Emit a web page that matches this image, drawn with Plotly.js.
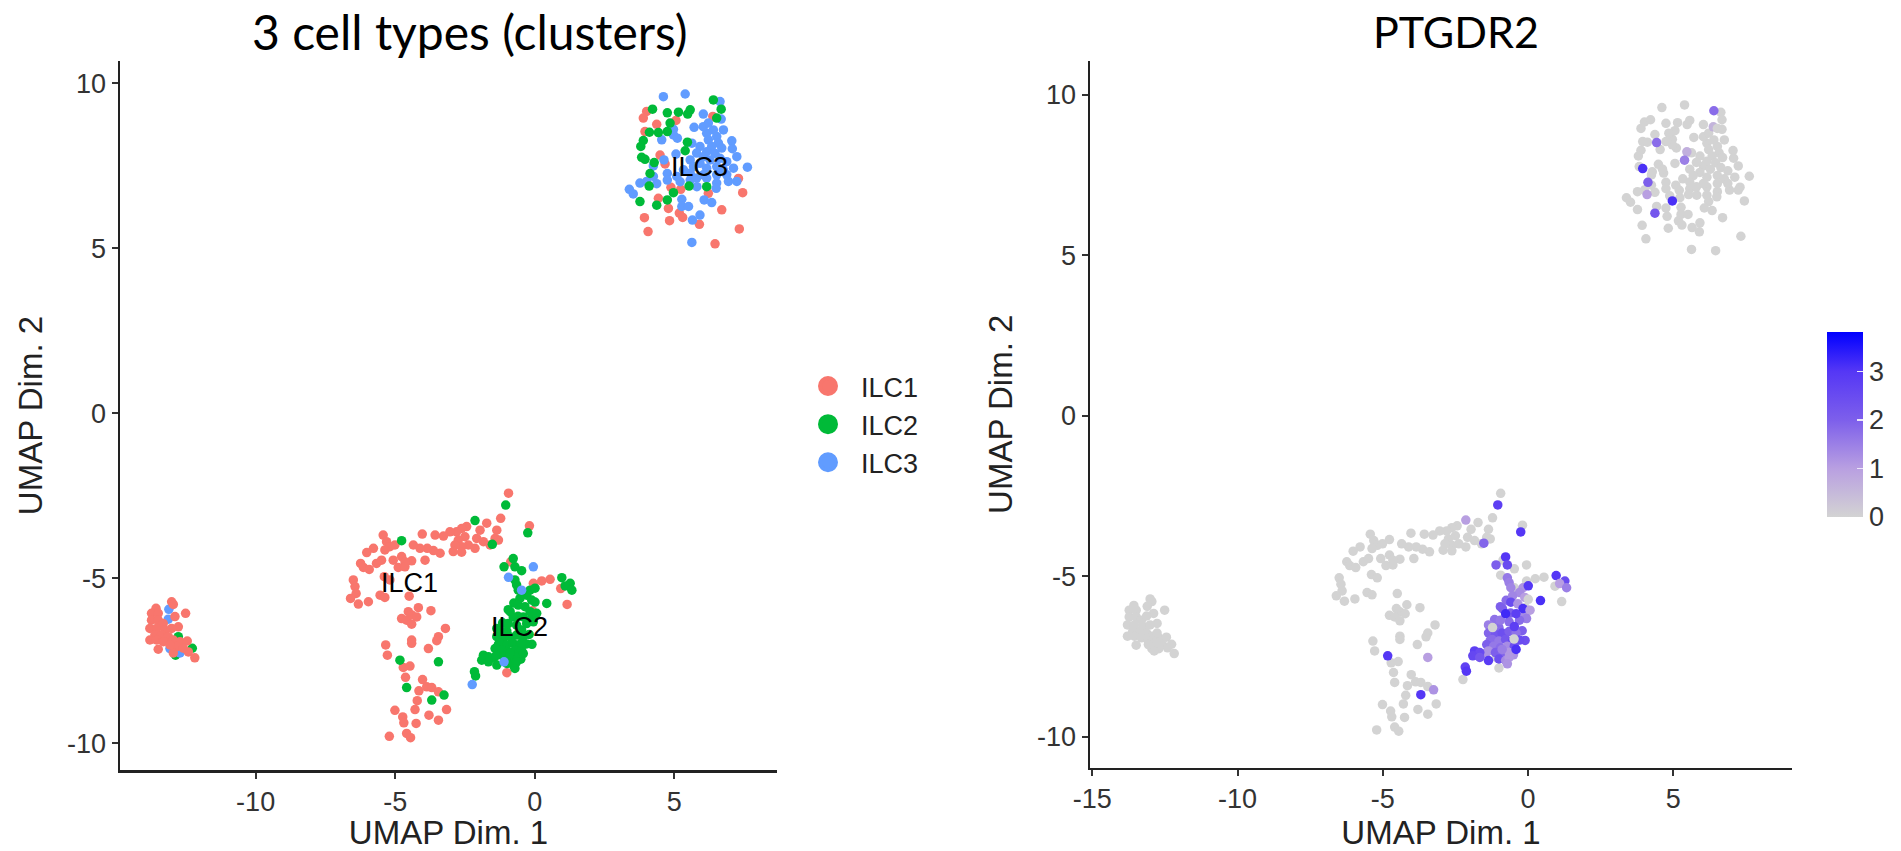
<!DOCTYPE html>
<html><head><meta charset="utf-8">
<script src="https://cdn.plot.ly/plotly-3.0.1.min.js"></script>
<style>html,body{margin:0;padding:0;background:#fff}</style></head>
<body><div id="chart" style="width:1901px;height:851px"></div>
<script>
// ILC1: main group (upper right cloud + arc + lower tail)
const ilc1MainX=[4.01,3.89,4.37,5.06,3.95,4.49,4.67,4.88,5.23,6.22,7.45,4.43,4.79,6.70,5.18,5.30,3.93,4.83,5.90,4.06,7.33,6.46,7.30,
-0.94,-1.22,-1.72,-0.19,-1.36,-1.96,-1.42,-2.08,-1.84,-1.30,-1.60,-2.14,-2.44,-2.62,-2.80,-3.04,-3.27,-3.57,-4.03,-2.50,-2.74,-2.38,-2.62,-2.86,-2.92,-2.62,-3.39,-3.63,-3.85,-4.11,-4.35,-3.93,-5.43,-5.31,-5.19,-5.37,-5.01,-5.78,-6.02,-6.24,-6.14,-5.93,-5.67,-5.49,-5.07,-4.77,-4.41,-4.65,-4.89,-4.65,-5.39,-5.19,-6.50,-6.44,-6.40,-6.60,-6.32,-5.96,-5.54,-5.37,-4.50,-4.17,-4.53,-3.72,-4.41,-4.77,-4.23,-4.59,-4.41,-3.20,-3.45,-3.51,-4.41,-4.41,-5.34,-3.81,-5.28,-4.71,-4.47,-4.63,-4.02,-3.87,-3.69,-4.15,-3.45,-4.21,-4.29,-5.01,-3.16,-4.73,-4.69,-3.79,-3.45,-4.25,-5.21,-4.59,-4.45,
-0.05,0.25,0.55,0.93,1.16,-0.09,-1.16,-1.00,-0.86];
const ilc1MainY=[9.15,8.95,8.76,8.88,8.54,7.83,7.56,6.85,6.79,6.67,6.69,6.52,6.21,6.17,6.07,5.94,5.93,5.84,5.73,5.51,5.59,5.14,7.12,
-2.42,-3.18,-3.33,-3.41,-3.54,-3.54,-3.79,-3.79,-3.89,-3.84,-3.99,-4.09,-3.43,-3.49,-3.59,-3.59,-3.72,-3.69,-3.66,-3.74,-3.84,-3.99,-4.04,-3.99,-4.19,-4.21,-4.24,-4.16,-4.09,-4.09,-3.99,-4.45,-3.69,-3.89,-4.04,-4.14,-3.99,-4.09,-4.22,-4.55,-4.67,-4.73,-4.55,-4.45,-4.45,-4.34,-4.47,-4.50,-4.67,-4.65,-4.95,-5.05,-5.05,-5.25,-5.46,-5.61,-5.78,-5.71,-5.51,-5.58,-5.54,-5.89,-6.01,-5.98,-6.11,-6.22,-6.17,-6.27,-6.39,-6.52,-6.77,-6.89,-6.87,-6.97,-7.02,-7.13,-7.33,-7.70,-7.66,-8.00,-8.07,-8.29,-8.31,-8.41,-8.44,-8.71,-8.98,-9.00,-8.98,-9.20,-9.38,-9.15,-9.30,-9.40,-9.79,-9.70,-9.83,
-5.15,-5.08,-5.03,-5.31,-5.79,-5.98,-6.62,-7.86,-4.50];
// ILC1: far-left lobe
const ilc1LobeX=[-13.01,-12.95,-13.57,-13.73,-13.49,-12.51,-12.89,-13.73,-13.49,-13.31,-12.77,-13.79,-13.55,-13.25,-13.01,-13.61,-13.37,-13.13,-13.79,-13.55,-13.31,-12.95,-12.71,-12.45,-13.49,-12.83,-12.59,-12.41,-12.18,-12.95,-13.07];
const ilc1LobeY=[-5.71,-5.79,-5.91,-6.06,-6.06,-6.06,-6.16,-6.27,-6.27,-6.37,-6.47,-6.52,-6.52,-6.57,-6.52,-6.72,-6.72,-6.77,-6.87,-6.87,-6.92,-6.87,-6.92,-6.90,-7.15,-7.07,-7.12,-7.23,-7.41,-7.26,-7.02];
// ILC1: the only cell with detectable PTGDR2
const ilc1PosX=[6.38], ilc1PosY=[9.00], ilc1PosExpr=[0.6];

// ILC2
const ilc2X=[-12.77,-12.27,-12.87,6.40,6.68,4.22,4.75,5.15,5.57,5.48,4.85,6.52,4.11,4.43,4.75,3.89,3.80,5.47,5.39,3.83,3.95,4.28,4.13,4.10,5.53,6.16,4.97,4.75,3.77,4.37,
-4.77,-0.47,-4.59,-2.14,-3.45,-3.25,-1.04,-0.25,-1.52,-4.83,-3.69,
-0.95,-0.75,-0.10,-0.60,-1.15,-1.00,-0.20,-0.10,-1.30,-0.50,-1.45,
-0.77,-1.10,-0.71,-0.71,-0.65,-0.59,-0.17,0.01,-0.29,-0.11,0.43,0.97,1.27,1.09,1.33,-0.53,-0.59,-0.88,-0.35,-0.17,
0.07,-0.05,-0.29,-0.65,-0.95,-1.36,
-1.36,-1.12,-0.89,-0.65,-0.41,-1.24,-1.00,-0.77,-0.53,-0.29,-1.42,-1.18,-0.95,-0.71,-0.47,-1.36,-1.12,-0.89,-0.65,-0.41,-1.00,-0.77,-0.65,-0.89,-0.71,-1.84,-1.66,-1.90,-1.66,-1.36,-2.16,-2.12,-0.77,-0.41,-0.47,-1.22,-0.48,0.01];
const ilc2Y=[-6.77,-7.12,-7.33,9.50,9.22,9.22,9.11,9.13,9.20,9.07,8.80,8.95,8.52,8.51,8.54,8.27,8.09,8.22,7.96,7.76,7.70,7.60,7.27,6.89,6.89,6.87,6.69,6.47,6.42,6.31,
-3.86,-4.77,-8.31,-3.25,-7.53,-8.54,-2.78,-3.62,-3.97,-7.48,-8.69,
-5.95,-5.75,-6.20,-6.15,-6.35,-6.60,-6.70,-7.00,-7.00,-7.45,-7.40,
-4.40,-4.65,-4.65,-5.05,-5.20,-5.36,-5.36,-5.30,-5.51,-5.66,-5.76,-4.98,-5.15,-5.23,-5.36,-5.61,-5.81,-6.01,-5.86,-6.01,
-6.06,-6.32,-6.37,-6.42,-6.37,-6.52,
-6.77,-6.82,-6.77,-6.72,-6.77,-6.97,-7.02,-6.97,-7.02,-6.99,-7.13,-7.18,-7.23,-7.18,-7.18,-7.33,-7.38,-7.43,-7.38,-7.28,-7.58,-7.63,-7.53,-7.28,-7.73,-7.33,-7.38,-7.48,-7.53,-7.63,-7.83,-7.96,-6.17,-6.17,-6.57,-6.60,-6.96,-5.72];
const ilc2Expr=[0,0,0,1.8,0,0,0,0,0,0,0,0,0,1.8,0,0,0,0.7,1.5,0,3.1,0,2,1,0,0,3.1,0,0,2.2,
0,0,0,1,1,1.2,2.8,3,1.9,3,3,
2,1.8,1.3,2,1.7,1.8,2,2.4,1.7,1.2,1.2,
3,2,2.5,1.6,1.5,1.4,1.2,3,1.3,1,3.1,3,2.5,1,1.5,1.4,2.5,2,1.2,3.1,
1,1.5,1.8,1.8,1.6,1.5,
1.9,2.2,2.4,2,1.7,1.8,1.6,2.2,2.6,2.5,2,1.6,1.8,1.3,2.4,1.2,2,1.9,1.1,3.1,2.4,1.3,1.1,1.5,1.2,2.8,2.5,2.6,2.2,2.9,2.7,3,3.2,2.8,2.8,0,0,0];

// ILC3: upper right cloud and lobe cells
const ilc3MainX=[4.61,5.39,6.64,6.04,6.68,5.71,4.97,5.11,4.55,6.16,6.40,6.76,6.52,6.22,6.58,6.34,6.70,6.16,6.46,7.06,7.08,6.04,6.28,6.64,6.88,7.24,5.92,6.16,6.52,6.76,7.12,7.62,5.06,4.63,4.25,4.75,4.75,5.63,4.37,4.01,3.77,3.39,3.53,4.25,5.81,5.57,6.16,6.52,6.94,7.24,6.50,6.07,6.34,5.27,5.27,5.51,5.92,5.65,5.63,5.92,5.80,5.57,5.69,5.33,5.57,5.09,6.04,6.22,6.88,6.52,6.04,5.80,4.97,5.21,
-13.11,-13.13,-13.07,-12.71];
const ilc3MainY=[9.60,9.68,9.45,9.07,8.92,8.67,8.61,8.34,8.29,8.49,8.59,8.59,8.39,8.29,8.19,8.09,8.04,7.93,7.88,8.26,8.02,7.78,7.68,7.73,7.63,7.78,7.58,7.43,7.48,7.38,7.43,7.46,7.86,7.68,7.50,7.27,7.07,8.19,6.96,7.03,6.98,6.79,6.65,7.18,6.87,7.07,7.13,6.98,7.03,7.03,6.82,6.47,6.39,6.49,6.27,6.27,6.01,5.86,5.18,8.09,7.89,7.68,7.48,7.38,7.28,7.18,8.69,8.80,7.23,7.23,7.23,7.13,8.44,7.02,
-5.94,-6.24,-7.13,-7.26];
// ILC3: cells lying in the ILC2 area
const ilc3LowX=[-0.05,-0.94,-0.47,-1.10,-2.24];
const ilc3LowY=[-4.65,-4.97,-5.36,-7.53,-8.22];

const clusterLabels=["ILC1","ILC2","ILC3"];
const labelX=[-4.5,-0.56,5.9];
const labelY=[-5.13,-6.49,7.46];
const leftXTicks=[-10,-5,0,5];
const rightXTicks=[-15,-10,-5,0,5];
const yTicks=[-10,-5,0,5,10];
const colorbarTicks=[0,1,2,3];
const exprMax=3.81;

const RED="#F8766D",GREEN="#00BA38",BLUE="#619CFF",GREY="#D3D3D3";
const W=1901,H=851,MS=9.5;
const fx=p=>p/W, fy=p=>(H-p)/H;
const sans='"Liberation Sans",Arial,sans-serif';
const mk=(x,y,color,name,extra)=>Object.assign({type:"scatter",mode:"markers",x,y,name,
  marker:{size:MS,color,line:{width:0}},hoverinfo:"x+y+name",showlegend:false,xaxis:"x",yaxis:"y"},extra||{});
// legend-only entries: the marker is drawn in the legend at reference size
const key=(color,name,rank)=>({type:"scatter",mode:"markers",x:[null],y:[null],name,xaxis:"x",yaxis:"y",legendrank:rank,showlegend:true,
  marker:{size:16,color,line:{width:4,color}}});

const data=[
  mk(ilc1MainX.concat(ilc1PosX),ilc1MainY.concat(ilc1PosY),RED,"ILC1"),
  mk(ilc3MainX.slice(0,74),ilc3MainY.slice(0,74),BLUE,"ILC3"),
  mk(ilc2X,ilc2Y,GREEN,"ILC2"),
  mk(ilc3LowX,ilc3LowY,BLUE,"ILC3"),
  mk(ilc3MainX.slice(74),ilc3MainY.slice(74),BLUE,"ILC3"),
  mk(ilc1LobeX,ilc1LobeY,RED,"ILC1"),
  key(RED,"ILC1",1),key(GREEN,"ILC2",2),key(BLUE,"ILC3",3),
  mk(ilc1MainX.concat(ilc1LobeX,ilc3MainX,ilc3LowX),ilc1MainY.concat(ilc1LobeY,ilc3MainY,ilc3LowY),GREY,"PTGDR2 0",{xaxis:"x2",yaxis:"y2"}),
  {type:"scatter",mode:"markers",x:ilc1PosX.concat(ilc2X),y:ilc1PosY.concat(ilc2Y),xaxis:"x2",yaxis:"y2",showlegend:false,name:"PTGDR2",
   marker:{size:MS,color:ilc1PosExpr.concat(ilc2Expr),coloraxis:"coloraxis",line:{width:0}}}
];

const axisBase={showgrid:false,zeroline:false,showline:true,linecolor:"#222",linewidth:2.5,ticks:"outside",ticklen:6,tickwidth:2,tickcolor:"#333",
  tickfont:{family:sans,size:27,color:"#333"},tickmode:"array"};
const xTitle={text:"UMAP Dim. 1",font:{family:sans,size:33,color:"#222"},standoff:8};
const yTitle={text:"UMAP Dim. 2",font:{family:sans,size:33,color:"#222"},standoff:15};

const layout={width:W,height:H,margin:{l:0,r:0,t:0,b:0},paper_bgcolor:"#fff",plot_bgcolor:"#fff",
  xaxis:Object.assign({},axisBase,{domain:[fx(120),fx(777)],range:[-14.86,8.68],tickvals:leftXTicks,ticktext:leftXTicks.map(String),anchor:"y",title:xTitle}),
  yaxis:Object.assign({},axisBase,{domain:[fy(770),fy(61)],range:[-10.81,10.68],tickvals:yTicks,ticktext:yTicks.map(String),anchor:"x",title:yTitle}),
  xaxis2:Object.assign({},axisBase,{domain:[fx(1090),fx(1792)],range:[-15.08,9.09],tickvals:rightXTicks,ticktext:rightXTicks.map(String),anchor:"y2",title:xTitle}),
  yaxis2:Object.assign({},axisBase,{domain:[fy(767.5),fy(61)],range:[-10.96,11.05],tickvals:yTicks,ticktext:yTicks.map(String),anchor:"x2",title:yTitle}),
  coloraxis:{cmin:0,cmax:exprMax,colorscale:[[0,"#d3d3d3"],[0.26,"#b9a0e1"],[0.525,"#7d5feb"],[0.787,"#5537f5"],[1,"#0000ff"]],
    colorbar:{x:fx(1827),xanchor:"left",y:fy(517),yanchor:"bottom",lenmode:"pixels",len:185,thicknessmode:"pixels",thickness:36,xpad:0,ypad:0,outlinewidth:0,
      tickmode:"array",tickvals:colorbarTicks,ticktext:colorbarTicks.map(String),ticks:"inside",ticklen:6,tickwidth:1.5,tickcolor:"#ece6fa",tickprefix:"\u00a0\u00a0",
      tickfont:{family:sans,size:27,color:"#333"}}},
  legend:{x:fx(795),xanchor:"left",y:fy(362),yanchor:"top",itemsizing:"trace",itemwidth:56,font:{family:sans,size:27,color:"#222"},bgcolor:"rgba(0,0,0,0)",borderwidth:0},
  annotations:clusterLabels.map((t,i)=>({text:t,x:labelX[i],y:labelY[i],xref:"x",yref:"y",showarrow:false,font:{family:sans,size:27,color:"#000"}})).concat([
    {text:"3 cell types (clusters)",x:fx(470),y:fy(31),xref:"paper",yref:"paper",xanchor:"center",yanchor:"middle",showarrow:false,font:{family:"Lato,sans-serif",size:48,color:"#000"}},
    {text:"PTGDR2",x:fx(1456),y:fy(31),xref:"paper",yref:"paper",xanchor:"center",yanchor:"middle",showarrow:false,font:{family:"Lato,sans-serif",size:43,color:"#000"}}
  ])
};
Plotly.newPlot("chart",data,layout,{displayModeBar:false,staticPlot:true});
</script></body></html>
